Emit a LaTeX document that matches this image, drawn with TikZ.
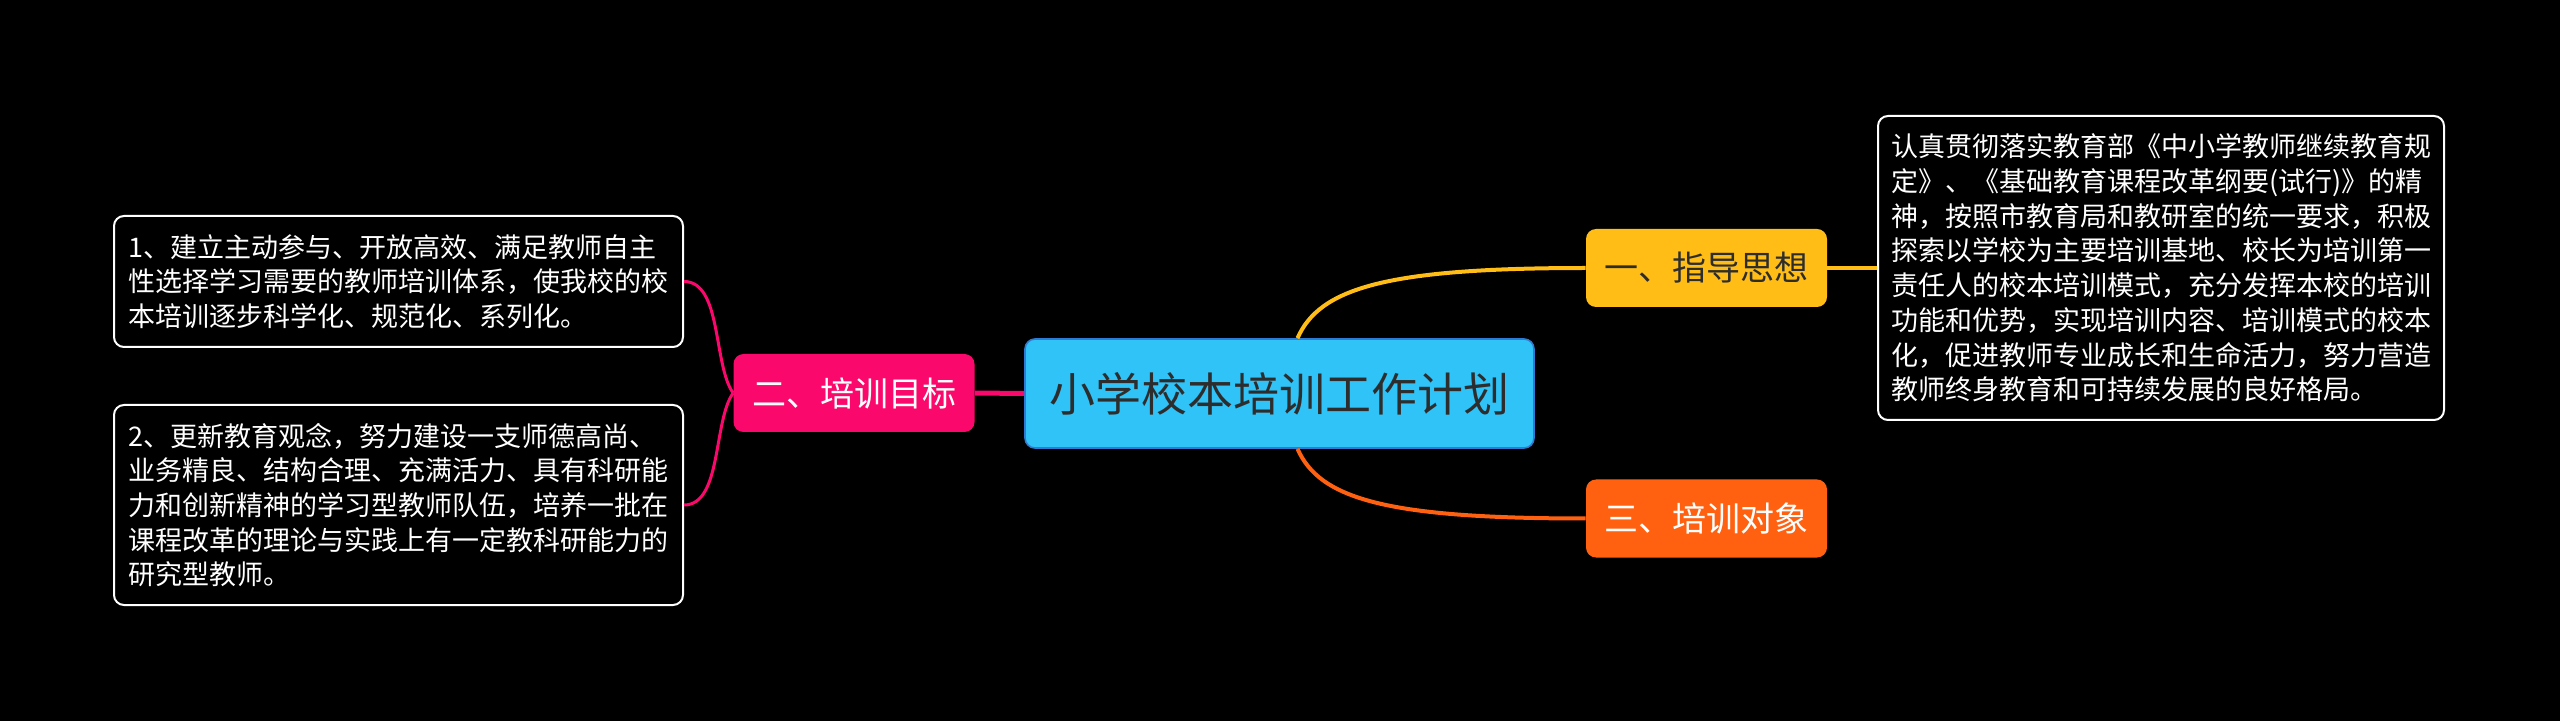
\documentclass[tikz,border=0pt]{standalone}
\usepackage{fontspec}
\setmainfont{Noto Sans CJK SC}
\usetikzlibrary{calc}
\definecolor{cRoot}{RGB}{47,195,247}
\definecolor{cRootB}{RGB}{46,123,214}
\definecolor{cPink}{RGB}{250,8,108}
\definecolor{cYellow}{RGB}{255,189,22}
\definecolor{cOrange}{RGB}{255,97,16}
\definecolor{cDark}{RGB}{45,45,45}
\tikzset{
  rootbox/.style={rectangle, rounded corners=5pt, inner sep=0pt, align=center,
    fill=cRoot, draw=cRootB, line width=0.8pt, minimum width=254.5pt,
    minimum height=54.5pt, text=cDark, font=\fontsize{23pt}{27pt}\selectfont},
  branch/.style={rectangle, rounded corners=5pt, inner sep=0pt, align=center,
    minimum width=120.5pt, minimum height=39pt, font=\fontsize{17pt}{20pt}\selectfont},
  leafbox/.style={rectangle, rounded corners=5pt, draw=white, line width=1pt,
    fill=black, text=white, inner sep=0pt, minimum width=284.5pt, text width=270pt,
    align=left, font=\fontsize{13.5pt}{17.35pt}\selectfont},
  pinkline/.style={draw=cPink, line width=1.5pt},
  yline/.style={draw=cYellow, line width=2pt},
  oline/.style={draw=cOrange, line width=2pt},
}
\begin{document}
\begin{tikzpicture}[x=0.5pt,y=-0.5pt]
\fill[black] (0,0) rectangle (2560,721);
\useasboundingbox (0,0) rectangle (2560,721);

\node[rootbox] (root) at (1279.5,393.5) {小学校本培训工作计划};
\node[branch, fill=cPink, text=white] (b2) at (854,393) {二、培训目标};
\node[branch, fill=cYellow, text=cDark] (b1) at (1706.5,268) {一、指导思想};
\node[branch, fill=cOrange, text=white] (b3) at (1706.5,518.5) {三、培训对象};

\node[leafbox, minimum height=65.5pt] (l1) at (398.5,281.5) {1、建立主动参与、开放高效、满足教师自主\\性选择学习需要的教师培训体系，使我校的校\\本培训逐步科学化、规范化、系列化。};
\node[leafbox, minimum height=100pt] (l2) at (398.5,505) {2、更新教育观念，努力建设一支师德高尚、\\业务精良、结构合理、充满活力、具有科研能\\力和创新精神的学习型教师队伍，培养一批在\\课程改革的理论与实践上有一定教科研能力的\\研究型教师。};
\node[leafbox, minimum width=283pt, minimum height=152pt] (r1) at (2161,268) {认真贯彻落实教育部《中小学教师继续教育规\\定》、《基础教育课程改革纲要(试行)》的精\\神，按照市教育局和教研室的统一要求，积极\\探索以学校为主要培训基地、校长为培训第一\\责任人的校本培训模式，充分发挥本校的培训\\功能和优势，实现培训内容、培训模式的校本\\化，促进教师专业成长和生命活力，努力营造\\教师终身教育和可持续发展的良好格局。};

\draw[draw=cPink, line width=2.5pt] (root.west) -- (b2.east);
\draw[pinkline] (b2.west) .. controls +(-20,-28) and +(38,0) .. (l1.east);
\draw[pinkline] (b2.west) .. controls +(-20,28) and +(38,0) .. (l2.east);
\draw[yline] ([xshift=9pt]root.north) .. controls +(22,-50) and +(-200,0) .. (b1.west);
\draw[oline] ([xshift=9pt]root.south) .. controls +(22,50) and +(-200,0) .. (b3.west);
\draw[yline] (b1.east) -- (r1.west);
\end{tikzpicture}
\end{document}
